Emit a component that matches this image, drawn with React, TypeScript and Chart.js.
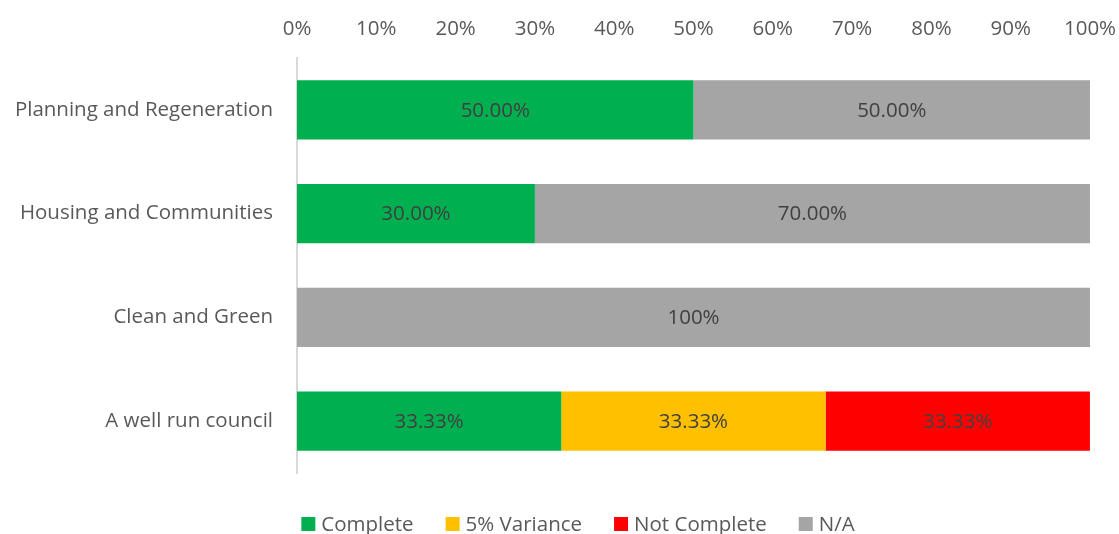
import React, { useEffect, useRef } from "react";
import { Chart, registerables } from "chart.js";

Chart.register(...registerables);

const categories = ["Planning and Regeneration", "Housing and Communities", "Clean and Green", "A well run council"];
const seriesNames = ["Complete", "5% Variance", "Not Complete", "N/A"];
const complete = [50, 30, 0, 33.33];
const variance = [0, 0, 0, 33.33];
const notComplete = [0, 0, 0, 33.33];
const na = [50, 70, 100, 0];
const colors = ["#00B050", "#FFC000", "#FF0000", "#A5A5A5"];
const xTicks = [0, 10, 20, 30, 40, 50, 60, 70, 80, 90, 100];

const FONT = "'Open Sans'";
const FS = 20.5;

function fmt(v: number) {
  return v === 100 ? "100%" : v.toFixed(2) + "%";
}

const labelPlugin = {
  id: "barLabels",
  afterDatasetsDraw(chart: any) {
    const ctx = chart.ctx;
    ctx.save();
    ctx.font = `${FS}px ${FONT}`;
    ctx.fillStyle = "#404040";
    ctx.textAlign = "center";
    ctx.textBaseline = "middle";
    chart.data.datasets.forEach((ds: any, i: number) => {
      const meta = chart.getDatasetMeta(i);
      meta.data.forEach((bar: any, j: number) => {
        const v = ds.data[j];
        if (!v) return;
        const cx = (bar.x + bar.base) / 2;
        ctx.fillText(fmt(v), cx, bar.y + 1);
      });
    });
    ctx.restore();
  },
};

const legendPlugin = {
  id: "customLegend",
  afterDraw(chart: any) {
    const ctx = chart.ctx;
    ctx.save();
    ctx.font = `${FS}px ${FONT}`;
    ctx.textBaseline = "middle";
    const box = 14, gap = 6, spacing = 32;
    const items = chart.data.datasets.map((ds: any) => ({
      label: ds.label,
      color: ds.backgroundColor,
      w: ctx.measureText(ds.label).width,
    }));
    const total = items.reduce((s: number, it: any) => s + box + gap + it.w, 0) + spacing * (items.length - 1);
    let x = 578 - total / 2;
    const y = 524;
    items.forEach((it: any) => {
      ctx.fillStyle = it.color;
      ctx.fillRect(x, y - box / 2, box, box);
      ctx.fillStyle = "#595959";
      ctx.textAlign = "left";
      ctx.fillText(it.label, x + box + gap, y + 1);
      x += box + gap + it.w + spacing;
    });
    ctx.restore();
  },
};

export default function App() {
  const ref = useRef<HTMLCanvasElement | null>(null);
  useEffect(() => {
    document.body.style.margin = "0";
    const seriesData = [complete, variance, notComplete, na];
    const chart = new Chart(ref.current!, {
      type: "bar",
      data: {
        labels: categories,
        datasets: seriesNames.map((name, i) => ({
          label: name,
          data: seriesData[i],
          backgroundColor: colors[i],
          borderWidth: 0,
          barPercentage: 0.57,
          categoryPercentage: 1,
        })),
      },
      options: {
        indexAxis: "y",
        responsive: false,
        animation: false,
        layout: { padding: { left: 0, right: 29, top: 0, bottom: 61 } },
        plugins: {
          legend: { display: false },
          tooltip: { enabled: false },
        },
        scales: {
          x: {
            position: "top",
            stacked: true,
            min: 0,
            max: 100,
            afterBuildTicks(scale: any) {
              scale.ticks = xTicks.map((v) => ({ value: v }));
            },
            afterFit(scale: any) {
              scale.height = 58;
              scale.paddingLeft = 0;
              scale.paddingRight = 0;
            },
            ticks: {
              font: { family: FONT, size: FS },
              color: "#595959",
              callback: (v: any) => v + "%",
              maxRotation: 0,
              autoSkip: false,
              padding: 9,
            },
            grid: { display: false },
            border: { display: false },
          },
          y: {
            stacked: true,
            afterFit(scale: any) {
              scale.width = 297;
            },
            ticks: {
              font: { family: FONT, size: FS },
              color: "#595959",
              padding: 16,
            },
            grid: { display: false },
            border: { display: true, color: "#D9D9D9", width: 2 },
          },
        },
      },
      plugins: [labelPlugin, legendPlugin],
    });
    return () => chart.destroy();
  }, []);
  return (
    <div style={{ width: 1119, height: 534 }}>
      <canvas ref={ref} width={1119} height={534} />
    </div>
  );
}
